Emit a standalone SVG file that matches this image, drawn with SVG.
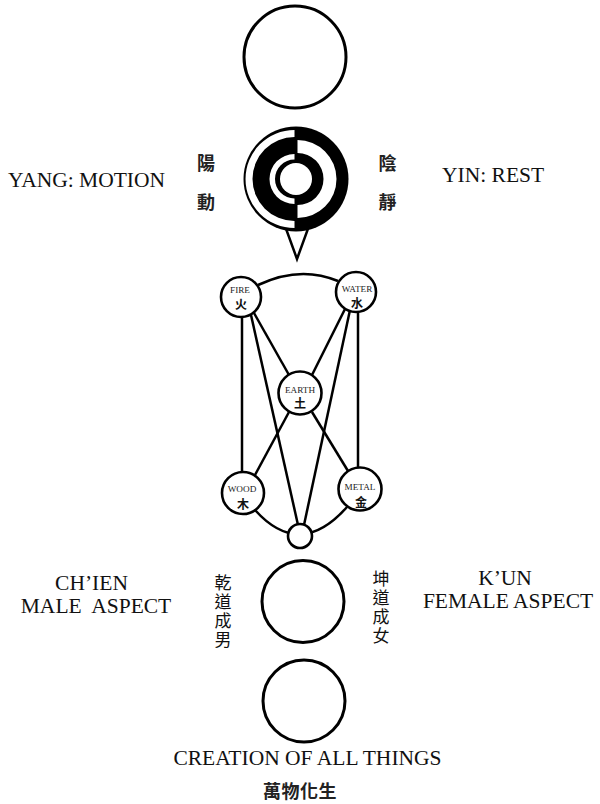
<svg xmlns="http://www.w3.org/2000/svg" width="600" height="804" viewBox="0 0 600 804">
<style>
.c{fill:#fff;stroke:#000;stroke-width:3}
.e{fill:#fff;stroke:#000;stroke-width:2.6}
.ln{fill:none;stroke:#000;stroke-width:2.5}
.lab{font-family:"Liberation Serif","Times New Roman",serif;font-size:21.5px;fill:#111}
.el{font-family:"Liberation Serif","Times New Roman",serif;font-size:9.2px;fill:#222;text-anchor:middle}
.ec{font-family:"Noto Sans CJK TC","Noto Sans CJK SC",sans-serif;font-size:12px;font-weight:bold;fill:#111;text-anchor:middle}
.cj{font-family:"Noto Sans CJK TC","Noto Sans CJK SC",sans-serif;font-size:18px;font-weight:bold;fill:#222;text-anchor:middle}
.cv{font-family:"Noto Sans CJK TC","Noto Sans CJK SC",sans-serif;font-size:17px;fill:#111;writing-mode:vertical-rl;letter-spacing:2px}
</style>

<g id="wuji"><circle class="c" cx="295" cy="57" r="51"/></g>

<g id="yinyang">
<polygon points="285,226 309,226 297,259" fill="#fff" stroke="#000" stroke-width="2.5" stroke-linejoin="miter"/>
<circle cx="296" cy="179" r="52.5" fill="#000"/>
<path d="M294.5,130 A49,49 0 0 0 294.5,228 L294.5,221 A42,42 0 0 1 294.5,137 Z" fill="#fff"/>
<path d="M294.5,154 A25,25 0 0 0 294.5,204 L294.5,198.5 A19.5,19.5 0 0 1 294.5,159.5 Z" fill="#fff"/>
<path d="M297.5,140 A39,39 0 0 1 297.5,218 L297.5,205 A26,26 0 0 0 297.5,153 Z" fill="#fff"/>
<circle cx="296" cy="179" r="16" fill="#fff"/>
</g>

<g id="connectors">
<path class="ln" d="M258,285 Q300,265 338,281"/>
<line class="ln" x1="242" y1="316" x2="242" y2="473"/>
<line class="ln" x1="358" y1="311" x2="358" y2="468"/>
<line class="ln" x1="251" y1="315" x2="298" y2="525"/>
<line class="ln" x1="254" y1="313" x2="289" y2="375"/>
<line class="ln" x1="350" y1="310" x2="304" y2="525"/>
<line class="ln" x1="346" y1="307" x2="312" y2="375"/>
<line class="ln" x1="289" y1="412" x2="255" y2="475"/>
<line class="ln" x1="312" y1="412" x2="348" y2="471"/>
<path class="ln" d="M255,510 Q300,560 347,507"/>
</g>

<g id="fire"><circle class="e" cx="241" cy="297" r="20"/><text class="el" x="240" y="293">FIRE</text><text class="ec" x="241" y="309">火</text></g>
<g id="water"><circle class="e" cx="356" cy="292" r="20"/><text class="el" x="357" y="292">WATER</text><text class="ec" x="357" y="308">水</text></g>
<g id="earth"><circle class="e" cx="300" cy="393" r="21.5"/><text class="el" x="300" y="393">EARTH</text><text class="ec" x="300" y="408">土</text></g>
<g id="wood"><circle class="e" cx="243" cy="493" r="21"/><text class="el" x="242" y="492">WOOD</text><text class="ec" x="243" y="509">木</text></g>
<g id="metal"><circle class="e" cx="360" cy="489" r="21.5"/><text class="el" x="360" y="490">METAL</text><text class="ec" x="361" y="507">金</text></g>
<g id="union"><circle class="e" cx="300" cy="536" r="12"/></g>

<g id="qiankun"><circle class="c" cx="303" cy="601.5" r="41"/></g>
<g id="creation"><circle class="c" cx="304" cy="701" r="41"/></g>

<g id="labels">
<text class="lab" x="8" y="187">YANG: MOTION</text>
<text class="lab" x="442" y="182">YIN: REST</text>
<text class="cj" x="206" y="169.5">陽</text>
<text class="cj" x="206" y="208.5">動</text>
<text class="cj" x="387.5" y="169.5">陰</text>
<text class="cj" x="387.5" y="208.5">靜</text>
<text class="lab" x="91.5" y="590" text-anchor="middle">CH’IEN</text>
<text class="lab" x="96" y="613" text-anchor="middle" xml:space="preserve">MALE  ASPECT</text>
<text class="cv" x="223" y="574">乾道成男</text>
<text class="cv" x="381" y="570">坤道成女</text>
<text class="lab" x="505" y="585" text-anchor="middle">K’UN</text>
<text class="lab" x="508" y="608" text-anchor="middle">FEMALE ASPECT</text>
<text class="lab" x="307.5" y="765" text-anchor="middle">CREATION OF ALL THINGS</text>
<text class="cj" x="300" y="798" letter-spacing="0.5">萬物化生</text>
</g>
</svg>
